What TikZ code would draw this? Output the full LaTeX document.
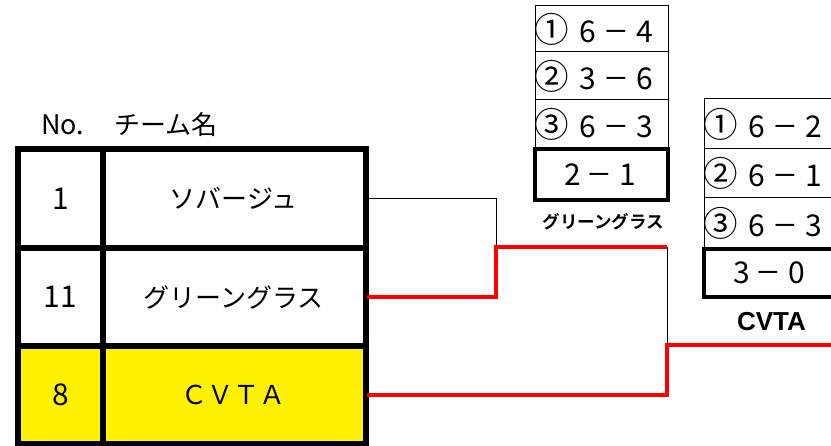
\documentclass[tikz,border=0pt]{standalone}
\usepackage{fontspec}
\setmainfont{Noto Sans CJK JP}[BoldFont={Noto Sans CJK JP Bold}]
\newfontfamily\lsans{Liberation Sans}
\newcommand\smin{\scalebox{1.3}[1]{−}}
\newcommand\srow[3]{\hbox to 133pt{\hspace*{16.5pt}\makebox[0pt]{\scalebox{1.15}{#1}}\hspace*{36pt}\makebox[0pt]{#2}\hspace*{28.5pt}\makebox[0pt]{\smin}\hspace*{28.5pt}\makebox[0pt]{#3}\hfill}}
\newcommand\stot[2]{\hbox to 133pt{\hspace*{37.5pt}\makebox[0pt]{#1}\hspace*{27pt}\makebox[0pt]{\smin}\hspace*{28.5pt}\makebox[0pt]{#2}\hfill}}
\begin{document}
\begin{tikzpicture}[x=1pt,y=-1pt,
  cell/.style={draw=black,line width=4pt,rectangle,inner sep=0pt,minimum height=97pt,font=\fontsize{26}{30}\selectfont},
  numcell/.style={cell,minimum width=83pt,font=\fontsize{30}{32}\selectfont},
  yel/.style={fill=yellow},
  sc/.style={draw=black,line width=1pt,rectangle,inner sep=0pt,minimum width=133pt,font=\fontsize{30}{32}\selectfont},
  tot/.style={draw=black,line width=3.5pt,rectangle,inner sep=0pt,minimum width=133pt,font=\fontsize{30}{32}\selectfont},
  win/.style={red,line width=3.5pt},
  lose/.style={black,line width=1pt},
  lbl/.style={font=\bfseries\fontsize{17.5}{19}\selectfont,inner sep=0pt}]
\clip (0,0) rectangle (831,446);
\fill[white] (0,0) rectangle (831,446);
% header
\node[anchor=west,inner sep=0pt,font=\fontsize{27}{30}\selectfont] (hno) at (41,125) {No.};
\node[anchor=west,inner sep=0pt,font=\fontsize{26}{30}\selectfont] (hname) at (114,125) {チーム名};
% table
\node[numcell] (no1) at (60.5,198.5) {1};
\node[cell,minimum width=263pt] (n1) at (233.5,198.5) {ソバージュ};
\node[numcell] (no11) at (60.5,297) {11};
\node[cell,minimum width=263pt] (n11) at (233.5,297) {グリーングラス};
\node[numcell,yel] (no8) at (60.5,395) {8};
\node[cell,yel,minimum width=263pt] (n8) at (233.5,395) {ＣＶＴＡ};
% re-draw borders on top
\draw[line width=4pt] (no1.north west) rectangle (n8.south east);
\draw[line width=4pt] (no1.north east) -- (no8.south east);
\draw[line width=4pt] (no1.south west) -- (n1.south east);
\draw[line width=4pt] (no11.south west) -- (n11.south east);
% bracket
\coordinate (m1) at (496,247);
\coordinate (m2) at (667,345);
\coordinate (fin) at (831,345);
\draw[lose] (n1.east) -| (m1);
\draw[lose] (m1 -| m2) -- (m2);
\draw[win] (n11.east) -| (m1) -- (m1 -| m2);
\draw[win] (n8.east) -| (m2) -- (fin);
% score box 1
\node[sc,minimum height=46pt] (a1) at (601.5,29) {\srow{①}{6}{4}};
\node[sc,minimum height=48pt] (a2) at (601.5,76) {\srow{②}{3}{6}};
\node[sc,minimum height=49pt] (a3) at (601.5,124.5) {\srow{③}{6}{3}};
\node[tot,minimum height=51pt] (a4) at (601.5,174.5) {\stot{2}{1}};
\node[lbl] (aw) at (603.5,222) {グリーングラス};
% score box 2
\node[sc,minimum height=50pt] (b1) at (770.5,124) {\srow{①}{6}{2}};
\node[sc,minimum height=49pt] (b2) at (770.5,173.5) {\srow{②}{6}{1}};
\node[sc,minimum height=51pt] (b3) at (770.5,223.5) {\srow{③}{6}{3}};
\node[tot,minimum height=48pt] (b4) at (770.5,273) {\stot{3}{0}};
\node[lbl,font=\lsans\bfseries\fontsize{26}{28}\selectfont] (bw) at (771.5,322) {CVTA};
\end{tikzpicture}
\end{document}
